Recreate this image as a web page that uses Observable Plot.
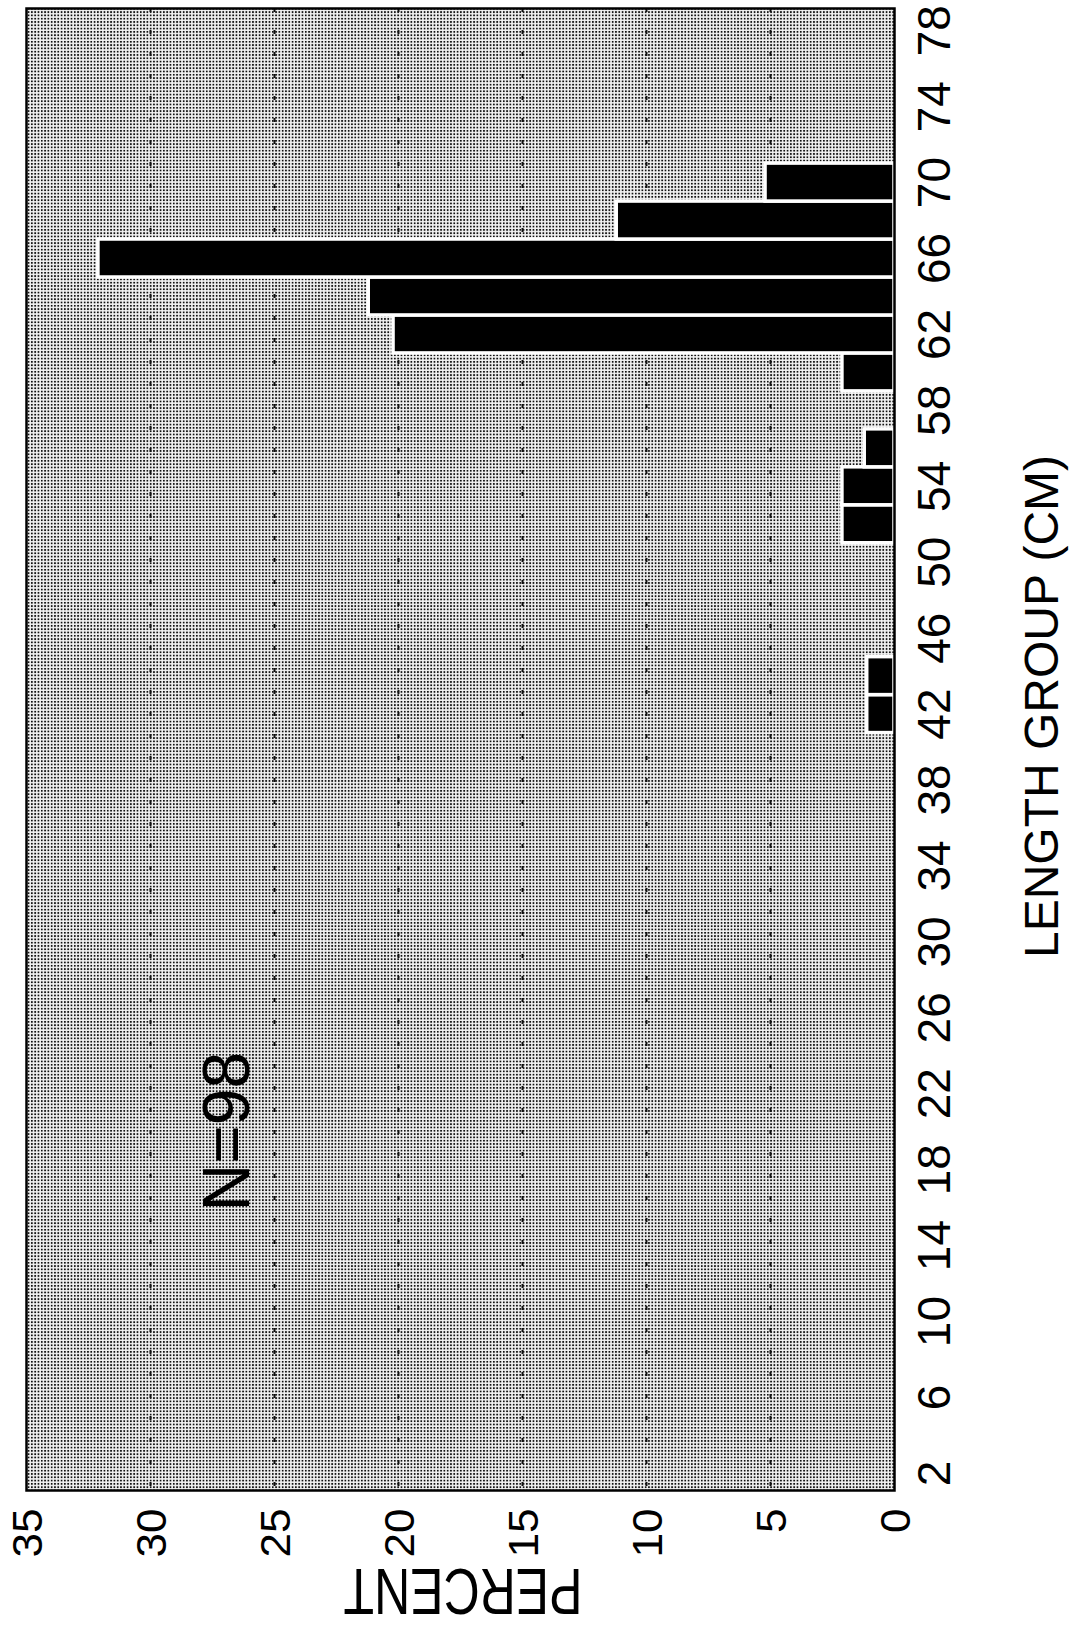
<!DOCTYPE html>
<html>
<head>
<meta charset="utf-8">
<script src="https://cdn.jsdelivr.net/npm/d3@7"></script>
<script src="https://cdn.jsdelivr.net/npm/@observablehq/plot@0.6"></script>
<style>
  html, body { margin: 0; padding: 0; background: #fff; }
  #chart { width: 1077px; height: 1637px; overflow: hidden; }
</style>
</head>
<body>
<div id="chart"></div>
<script>
// ---- data ----
const lengthGroups  = [42, 44, 52, 54, 56, 60, 62, 64, 66, 68, 70];
const percentValues = [1.1, 1.1, 2.1, 2.1, 1.2, 2.1, 20.2, 21.2, 32.1, 11.2, 5.2];
const lengthTicks   = [2, 6, 10, 14, 18, 22, 26, 30, 34, 38, 42, 46, 50, 54, 58, 62, 66, 70, 74, 78];
const percentTicks  = [0, 5, 10, 15, 20, 25, 30, 35];
const gridValues    = [5, 10, 15, 20, 25, 30];
const classWidth    = 2;
const sampleLabel   = "N=98";
const percentTitle  = "PERCENT";
const lengthTitle   = "LENGTH GROUP (CM)";

const bars = lengthGroups.map((g, i) => ({group: g, percent: percentValues[i]}));
const font = "'Liberation Sans', Arial, Helvetica, sans-serif";

const svg = Plot.plot({
  width: 1077,
  height: 1637,
  marginLeft: 26,
  marginRight: 183,
  marginTop: 8,
  marginBottom: 147,
  style: {background: "white", fontFamily: font, color: "black"},
  x: {domain: [0, 35], reverse: true, axis: null},
  y: {domain: [1.1, 79.17], axis: null},
  marks: [
    Plot.frame({fill: "url(#halftone)", stroke: null}),
    Plot.ruleX(gridValues, {stroke: "#111", strokeWidth: 2, strokeDasharray: "4,18"}),
    Plot.rect(bars, {
      x1: 0,
      x2: "percent",
      y1: d => d.group - classWidth / 2,
      y2: d => d.group + classWidth / 2,
      fill: "black",
      stroke: "white",
      strokeWidth: 3.5
    }),
    Plot.frame({stroke: "black", strokeWidth: 2.5}),
    // length-group tick labels (right side, rotated)
    Plot.text(lengthTicks, {
      y: d => d, frameAnchor: "right", dx: 41, rotate: -90,
      textAnchor: "middle", lineAnchor: "middle", fontSize: 46, fill: "black"
    }),
    // percent tick labels (bottom, rotated)
    Plot.text(percentTicks, {
      x: d => d, frameAnchor: "bottom", dy: 18, dx: 2, rotate: -90,
      textAnchor: "end", lineAnchor: "middle", fontSize: 42, fill: "black",
      className: "pct-ticks"
    }),
    // axis titles
    Plot.text([percentTitle], {
      x: 17.4, frameAnchor: "bottom", dy: 99, rotate: 180,
      textAnchor: "middle", lineAnchor: "middle", fontSize: 50, fill: "black",
      className: "pct-title"
    }),
    Plot.text([lengthTitle], {
      frameAnchor: "right", dx: 148, dy: -43, rotate: -90,
      textAnchor: "middle", lineAnchor: "middle", fontSize: 48, fill: "black"
    }),
    // sample size annotation
    Plot.text([sampleLabel], {
      x: 26.9, y: 20, rotate: -90,
      textAnchor: "middle", lineAnchor: "middle", fontSize: 66, fill: "black"
    })
  ]
});

// halftone pattern used as the plot-area fill
const ns = "http://www.w3.org/2000/svg";
const defs = document.createElementNS(ns, "defs");
defs.innerHTML =
  '<pattern id="halftone" width="3.3" height="3.3" patternUnits="userSpaceOnUse">' +
  '<rect width="3.3" height="3.3" fill="#f2f2f2"/>' +
  '<rect x="0.8" y="0.8" width="1.75" height="1.75" fill="#111"/>' +
  '</pattern>';
svg.insertBefore(defs, svg.firstChild);

// stretch texts like the scanned original
function stretch(cls, s) {
  d3.select(svg).selectAll("g." + cls + " text").each(function () {
    const t = this.getAttribute("transform") || "";
    this.setAttribute("transform", t + " scale(" + s + ")");
  });
}
stretch("pct-ticks", "1.05,1");
stretch("pct-title", "1,1.28");

document.getElementById("chart").appendChild(svg);
</script>
</body>
</html>
